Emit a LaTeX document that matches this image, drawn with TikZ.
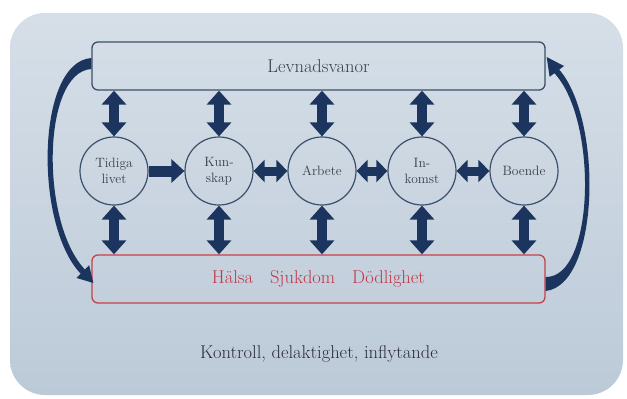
\documentclass[tikz,border=0pt]{standalone}
\usetikzlibrary{arrows.meta,calc}
\definecolor{navy}{HTML}{1C355E}
\definecolor{boxline}{HTML}{3B4F6B}
\definecolor{txt}{HTML}{35404E}
\definecolor{dtxt}{HTML}{2A2E36}
\definecolor{redline}{HTML}{C8404A}
\definecolor{redtxt}{HTML}{C23645}
\definecolor{bgtop}{HTML}{D6DFE8}
\definecolor{bgbot}{HTML}{BCCAD8}
\tikzset{
  bigbox/.style={draw=boxline, line width=1.3pt, rounded corners=6pt, minimum width=453pt, minimum height=48pt, inner sep=0pt},
  hbox/.style={bigbox, draw=redline},
  factor/.style={circle, draw=boxline, line width=1.2pt, minimum size=68pt, inner sep=0pt, align=center, text=txt, font=\fontsize{13.5}{16.5}\selectfont},
  varrow/.style={navy, line width=10pt, {Triangle[width=24pt,length=14pt]}-{Triangle[width=24pt,length=14pt]}},
  harrow/.style={navy, line width=11pt, -{Triangle[width=23pt,length=13pt]}},
  hdarrow/.style={navy, line width=9pt, {Triangle[width=22pt,length=11pt]}-{Triangle[width=22pt,length=11pt]}},
  curved/.style={fill=navy}
}
\begin{document}
\begin{tikzpicture}[x=1pt,y=-1pt]
\useasboundingbox (0,0) rectangle (627,399);
\shade[top color=bgtop, bottom color=bgbot, rounded corners=35pt] (10,13) rectangle (623,395);
\node[bigbox, text=txt, font=\fontsize{18.5}{22}\selectfont] (lev) at (318.5,66) {Levnadsvanor};
\node[hbox, text=redtxt, font=\fontsize{18.5}{22}\selectfont] (hal) at (318.5,279) {H\"alsa\hspace{17pt}Sjukdom\hspace{17pt}D\"odlighet};
\node[factor] (c1) at (114,171) {Tidiga\\livet};
\node[factor] (c2) at (219,171) {Kun-\\skap};
\node[factor] (c3) at (322,171) {Arbete};
\node[factor] (c4) at (422,171) {In-\\komst};
\node[factor] (c5) at (524,171) {Boende};
\node[text=dtxt, font=\fontsize{18.5}{22}\selectfont] (ctl) at (319,354) {Kontroll, delaktighet, inflytande};
\foreach \c in {c1,c2,c3,c4,c5}{
  \draw[varrow] (lev.south -| \c) -- (\c.north);
  \draw[varrow] (\c.south) -- (hal.north -| \c);
}
\draw[harrow] (c1.east) -- (c2.west);
\draw[hdarrow] (c2.east) -- (c3.west);
\draw[hdarrow] (c3.east) -- (c4.west);
\draw[hdarrow] (c4.east) -- (c5.west);
% left curved arrow: Levnadsvanor -> Halsa
\fill[curved] ($(lev.west)+(0,-8)$) .. controls (36,62) and (34,225) .. (80.7,273.7)
  -- (76.4,277.9) -- ($(hal.west)+(2,4)$) -- (89.2,265.3) -- (84.9,269.5)
  .. controls (40,222) and (42,72) .. ($(lev.west)+(0,3)$) -- cycle;
% right curved arrow: Halsa -> Levnadsvanor
\fill[curved] ($(hal.east)+(0,12)$) .. controls (600,285) and (603,120) .. (559.2,69.6)
  -- (564,66) -- ($(lev.east)+(1,-9)$) -- (549.6,76.8) -- (554.4,73.2)
  .. controls (598,120) and (595,278) .. ($(hal.east)+(0,-2)$) -- cycle;
\end{tikzpicture}
\end{document}
